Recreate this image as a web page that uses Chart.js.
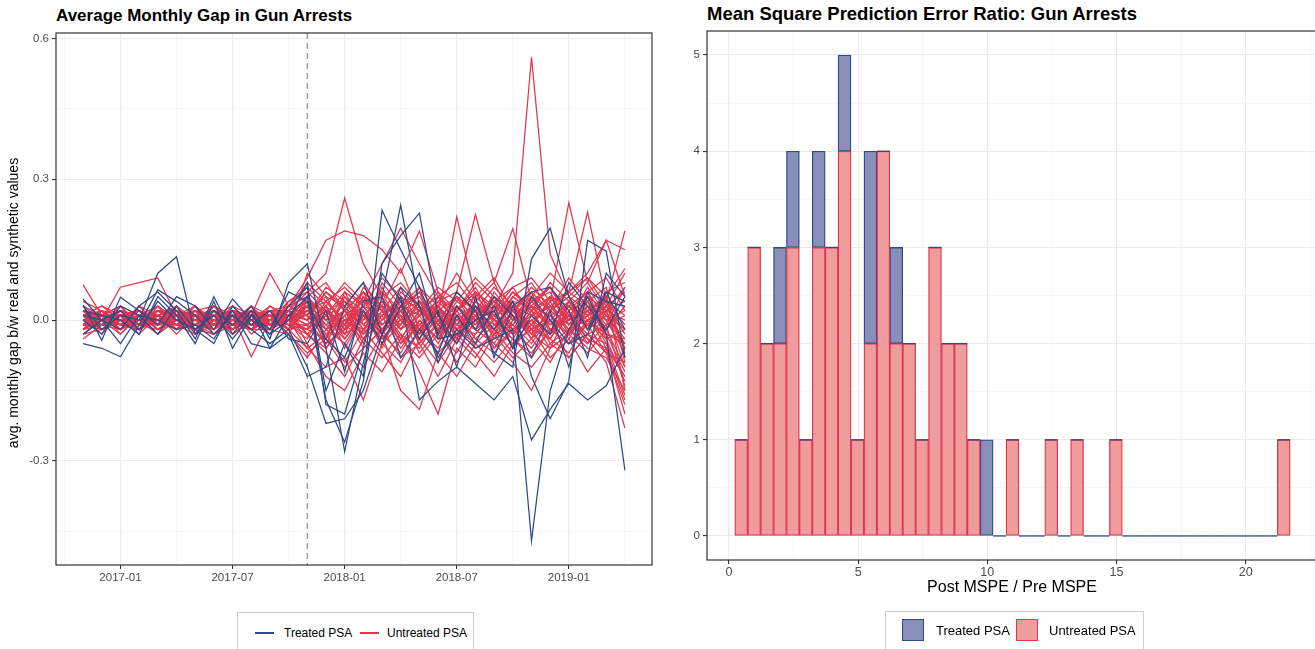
<!DOCTYPE html>
<html>
<head>
<meta charset="utf-8">
<script src="https://cdn.jsdelivr.net/npm/chart.js@4.4.1/dist/chart.umd.min.js"></script>
<style>
  html, body { margin: 0; padding: 0; background: #fff; overflow: hidden; }
  body { width: 1315px; height: 649px; position: relative; font-family: "Liberation Sans", Arial, sans-serif; color: #000; }
  canvas { position: absolute; top: 0; }
  .title { position: absolute; font-weight: bold; line-height: 20px; white-space: nowrap; }
  .axtitle { position: absolute; white-space: nowrap; text-align: center; }
  .legend { position: absolute; border: 1px solid #cfcfcf; background: #fff; }
  .legend span { position: absolute; white-space: nowrap; }
</style>
</head>
<body>
<div class="title" style="left:56px; top:6px; font-size:17px;">Average Monthly Gap in Gun Arrests</div>
<div class="title" style="left:707px; top:4px; font-size:18.5px;">Mean Square Prediction Error Ratio: Gun Arrests</div>

<canvas id="gapChart" width="660" height="600" style="left:0px;"></canvas>
<canvas id="mspeChart" width="670" height="600" style="left:660px;"></canvas>

<div class="axtitle" style="left:-187px; top:295px; width:400px; font-size:14px; line-height:16px; transform:rotate(-90deg);">avg. monthly gap b/w real and synthetic values</div>
<div class="axtitle" style="left:862px; top:578px; width:300px; font-size:16px; line-height:18px;">Post MSPE / Pre MSPE</div>

<div class="legend" style="left:237px; top:612px; width:235px; height:50px;">
  <span style="left:17px; top:19px; width:19px; height:2px; background:#2f4a8a;"></span>
  <span style="left:46px; top:12px; font-size:12px; line-height:16px;">Treated PSA</span>
  <span style="left:122px; top:19px; width:19px; height:2px; background:#e0364f;"></span>
  <span style="left:149px; top:12px; font-size:12px; line-height:16px;">Untreated PSA</span>
</div>
<div class="legend" style="left:885px; top:611px; width:257px; height:50px;">
  <span style="left:16px; top:7px; width:20px; height:20px; background:#8a8fb9; border:1.5px solid #2f4a8a;"></span>
  <span style="left:50px; top:11px; font-size:13px; line-height:16px;">Treated PSA</span>
  <span style="left:130px; top:7px; width:20px; height:20px; background:#f09c9d; border:1.5px solid #e0364f;"></span>
  <span style="left:163px; top:11px; font-size:13px; line-height:16px;">Untreated PSA</span>
</div>

<script>
// ---------- left panel data: monthly gaps (real - synthetic) ----------
const months = ['2016-11','2016-12','2017-01','2017-02','2017-03','2017-04','2017-05','2017-06','2017-07','2017-08','2017-09','2017-10',
  '2017-11','2017-12','2018-01','2018-02','2018-03','2018-04','2018-05','2018-06','2018-07','2018-08','2018-09','2018-10',
  '2018-11','2018-12','2019-01','2019-02','2019-03','2019-04'];
const treatmentMonth = '2017-11';
const monthTickLabels = ['2017-01','2017-07','2018-01','2018-07','2019-01'];
const gapTicks = [-0.3, 0, 0.3, 0.6];

const treatedPSA = [
  [.03,-.02,.01,.00,.10,.135,-.03,.02,-.01,.03,-.04,.08, .12,-.06,-.28,-.09,.05,.245,.03,-.08,-.02,-.06,-.04,-.02,-.47,-.15,-.02,.05,-.03,-.32],
  [-.05,-.06,-.078,-.01,.065,.04,.01,-.03,.01,-.02,-.05,-.02, -.10,-.22,-.21,-.15,-.03,.05,-.17,-.13,-.10,-.135,-.17,-.12,-.255,-.19,-.135,-.17,-.14,-.06],
  [.032,-.043,.049,.02,-.01,.05,.03,-.02,.045,.00,-.03,.03, .07,-.15,-.05,-.12,.234,.15,.07,-.03,.06,.02,-.07,-.10,.13,.196,.05,-.02,.06,.04],
  [.01,.00,-.02,.03,.06,.02,-.04,.05,-.03,.02,-.06,.01, .05,-.17,-.26,-.13,.12,.18,.228,.01,-.05,.03,-.02,.04,-.12,-.21,-.13,.17,.147,-.08],
  [.02,.01,.00,-.03,.05,.01,-.05,.04,-.06,.01,-.03,.00, .08,-.18,-.20,-.06,.10,.04,-.04,.02,-.10,.05,-.08,.03,.06,.07,.02,-.08,.10,.05],
  [-.03,.00,-.05,.01,.00,-.02,-.01,-.04,.02,-.05,-.06,-.03, -.12,-.10,.03,.08,-.03,.07,.03,-.09,.01,-.05,.03,-.06,.01,-.03,.08,.03,-.02,.05],
  [.045,.00,.02,-.02,.04,.00,-.02,-.05,.03,-.01,.02,-.04, -.05,.02,-.11,.04,.05,-.08,-.02,-.07,.03,-.02,.05,.01,-.08,.02,-.10,.06,.04,.03],
  [.00,-.03,.03,.01,-.03,.03,-.02,.01,-.04,.01,-.02,.06, .04,-.04,-.08,.02,-.05,.03,.10,-.04,-.03,.00,.02,-.06,.05,.00,-.05,-.03,.06,-.02]
];

const untreatedPSA = [
  [.01,-.02,.00,.02,-.01,.01,-.02,.00,.02,-.01,.01,-.02, .02,.05,.03,-.02,.04,.00,-.03,.05,.02,.06,.03,.10,.56,.14,.05,.02,.04,.01],
  [-.02,.01,.03,-.01,.00,.02,.01,-.02,.00,.03,-.01,.02, .06,.10,.26,.12,.05,.08,.03,-.02,.04,.01,-.03,.05,.02,-.04,.03,.06,.00,-.05],
  [.02,.00,-.01,.03,.01,-.02,.02,.01,-.03,.00,.02,.03, .09,.17,.19,.18,.15,.10,.19,.06,.02,.08,.04,.01,-.02,.05,.03,-.01,.04,-.06],
  [-.01,.02,.01,-.02,.03,.00,-.01,.03,.01,-.02,.00,.01, .03,-.04,.05,.02,-.06,.03,.07,.01,.22,.05,.09,.02,.06,-.03,.04,.08,.02,-.10],
  [.00,-.01,.02,.01,-.02,.01,.03,-.01,.02,.01,-.03,.00, -.02,.04,-.01,.06,.03,-.05,.01,.04,.06,.225,.08,.195,.04,.07,.01,.05,-.02,.03],
  [.03,.01,-.02,.00,.02,-.01,.00,.02,-.02,.03,.01,-.01, .04,.01,-.03,.05,.02,.07,-.02,.03,-.04,.06,.02,.07,.09,.04,.25,.08,.17,.05],
  [-.03,.00,.01,.02,-.01,.03,-.02,.01,.00,-.02,.03,.01, .01,.06,.02,-.03,.08,.03,.05,-.01,.03,.00,.05,.02,.05,.10,.06,.23,.04,.19],
  [.01,.03,.00,-.01,.02,.02,-.03,.00,.01,.02,-.02,.04, .07,.03,.08,.04,.12,.196,.12,.05,.01,.03,-.02,.04,.03,.01,-.03,.06,.09,.02],
  [.00,.02,-.03,.01,.00,-.01,.02,.03,-.01,.00,.02,-.02, .05,-.02,.04,.01,-.03,.02,.06,.00,.05,.02,.07,.03,-.01,.04,.06,.10,.17,.15],
  [-.02,-.01,.02,.00,.01,-.03,.01,-.02,.02,.01,-.01,.00, -.06,-.10,-.08,-.17,-.05,-.09,-.02,-.06,.01,-.04,-.07,-.02,-.06,.00,-.08,-.03,-.05,-.12],
  [.02,-.02,.00,.01,-.02,.00,.03,-.01,-.02,.02,.00,.01, -.03,-.07,-.12,-.04,-.08,-.03,-.11,-.20,-.06,-.10,-.03,-.08,-.04,-.09,-.02,-.06,-.08,-.15],
  [-.01,.00,.01,-.02,.02,.01,-.02,.02,.00,-.01,.01,-.03, -.08,-.02,-.05,-.10,-.03,-.15,-.19,-.07,-.12,-.05,-.09,-.04,-.08,-.02,-.05,-.01,-.07,-.18],
  [.00,.01,-.01,.02,.00,.02,-.01,-.03,.01,.00,-.02,.02, .00,-.05,.02,-.03,.01,-.06,.00,-.04,.03,-.02,-.05,.01,-.03,-.06,.02,-.04,-.09,-.23],
  [.01,-.01,.02,-.01,.01,.00,.02,.00,-.02,.01,.02,-.01, .03,.00,-.04,.02,-.02,.04,-.05,.01,-.03,.04,.00,-.04,.02,-.05,-.02,.01,-.06,-.20],
  [-.02,.02,-.01,.00,.03,-.02,.00,.01,.02,-.03,.00,.02, -.05,-.12,-.15,-.07,-.11,-.04,-.08,-.03,-.07,.00,-.05,-.09,-.15,-.06,-.03,-.07,-.02,-.10],
  [.075,.01,.03,-.02,.01,.02,-.01,.02,-.01,.01,-.02,.00, .02,-.03,.01,.04,-.01,.02,-.04,.03,-.02,.01,.04,-.03,.00,.03,-.02,.04,-.04,-.13],
  [.02,.00,.07,.08,.09,.01,-.02,.03,.00,.02,-.01,.01, .04,.02,-.02,.03,.06,-.02,.04,.02,-.04,.03,.01,-.02,.04,.00,-.03,.02,.05,-.08],
  [-.01,.01,-.02,.01,.00,.03,.00,-.02,.02,.01,.10,.03, .05,.08,.02,.06,-.01,.03,.01,-.05,.02,.06,-.01,.03,-.03,.02,.05,-.02,.03,.10],
  [.00,-.02,.01,.00,-.03,.01,.02,-.01,.01,-.078,.00,.03, .01,-.04,.06,-.01,.03,-.04,.02,.05,-.01,.02,-.06,.00,.03,-.02,.01,-.05,.02,-.06],
  [-.03,.00,-.01,.02,.00,-.02,.01,.00,-.03,.00,.01,-.01, -.04,.03,-.06,.01,-.04,.01,-.07,-.02,-.09,-.03,.02,-.06,-.01,-.04,-.07,.00,-.03,-.11],
  [.01,.02,.00,-.01,.02,-.01,.01,.02,.00,.02,-.01,.02, .08,.04,.07,.03,.09,.05,.02,.07,.04,.09,.05,.02,.07,.03,.06,.09,.05,.11],
  [.00,.00,.02,-.01,-.01,.02,.00,.01,-.01,.00,.03,.00, -.02,.01,.03,-.04,.00,.05,-.03,.02,-.01,-.03,.02,.04,-.02,.01,-.04,.03,.00,-.07],
  [.02,-.01,-.02,.01,.03,.00,-.01,-.02,.02,-.02,.01,-.02, .03,-.02,.00,.02,-.05,-.01,.03,-.02,.05,.00,-.02,.03,.01,-.03,.04,-.01,.02,.04],
  [-.01,-.02,.01,.02,-.02,.01,.00,.02,-.01,.02,.00,.04, .06,.02,-.01,.05,.00,.03,.06,-.03,.02,.05,.01,.06,.03,.07,.00,.04,.07,-.09],
  [.03,.00,-.01,-.02,.00,.01,-.02,.01,.02,.00,.01,-.02, -.06,-.03,-.09,-.02,-.07,-.12,-.04,-.09,-.03,-.07,-.12,-.05,-.02,-.08,-.04,-.11,-.06,-.17],
  [-.02,.01,.00,.01,-.01,.00,.02,-.03,.00,.01,.02,.01, .01,.07,.04,.00,.06,.02,-.02,.05,.08,.03,.00,.06,.02,.08,.04,.01,.06,.08],
  [.01,-.01,.01,.00,.01,-.02,.01,.00,.01,-.01,.00,.02, .04,-.01,.02,.06,.02,-.02,.04,.00,.03,-.01,.04,.07,.01,.05,-.01,.03,.00,.02],
  [.00,.01,-.02,.03,-.01,.01,-.01,.02,.01,.00,-.02,.01, -.01,.03,-.02,.01,-.04,.00,.02,-.01,-.05,.01,.03,-.01,.05,-.02,.00,.03,-.03,-.05],
  [-.04,-.01,.00,-.02,.01,-.01,-.03,-.01,.00,-.02,.00,-.01, -.03,-.06,-.01,-.04,.02,-.03,-.06,.00,-.02,-.05,-.01,-.04,-.07,-.02,-.05,.00,-.04,-.02],
  [.02,.01,.01,.00,-.01,.02,.00,.00,-.02,.01,.01,.00, .02,.04,.00,-.02,.03,.01,-.03,.04,.00,.03,-.02,.05,.02,-.01,.03,.00,.02,.07],
  [-.01,.00,-.03,.01,.02,.00,-.01,.01,.03,-.01,-.01,.03, .05,.01,.06,.03,.01,.05,.02,-.01,.06,.02,.04,.00,.05,.02,.06,.03,.01,-.04],
  [.01,-.03,.01,-.01,.00,.02,.01,-.01,.00,.02,.00,-.02, -.01,-.05,-.02,.02,-.03,-.07,.00,-.04,.01,-.06,-.03,-.01,-.05,.01,-.02,-.05,-.01,-.14],
  [-.02,.00,.02,.01,.01,-.01,.00,.03,-.01,-.01,.02,.00, .03,.00,.05,-.01,.04,.01,-.02,.03,-.01,.04,.01,-.03,.02,.05,.00,.02,-.02,.03],
  [.00,.02,-.01,-.02,.02,.01,.02,-.01,.01,.01,-.02,.02, .00,.03,-.03,.05,-.02,.02,.04,-.02,.01,-.01,.03,.02,-.04,.01,.03,-.02,.05,-.15],
  [.01,.01,.00,.02,-.02,.00,-.01,.01,-.01,.02,.01,-.01, -.02,-.04,.01,-.06,-.02,.02,-.05,-.01,-.04,.02,-.02,-.05,.00,-.03,.01,-.04,-.06,-.12],
  [-.02,.00,.01,.00,.00,.01,.01,-.02,.02,-.02,.00,.01, .02,-.01,-.05,.01,.05,-.02,.01,.03,-.03,.00,.05,-.02,.01,.03,-.02,.00,.03,.06],
  [.02,-.02,.00,.01,.01,-.01,-.02,.00,.01,.00,.02,-.01, -.01,.02,.04,-.02,.01,.04,-.01,.02,.05,-.02,.01,.03,-.02,-.04,.02,.06,-.03,-.04],
  [-.01,.01,-.01,.00,.02,.00,.00,.02,-.02,.01,-.01,.00, .03,-.02,.00,.03,-.02,.00,.04,-.03,.00,.03,-.04,.02,-.01,.04,-.03,.01,.04,-.01],
  [.00,-.01,.02,-.01,.00,.02,-.02,.01,.00,-.01,.01,.02, -.03,.01,-.03,.00,.03,-.04,.02,-.02,.02,-.04,.00,-.03,.03,-.01,.01,-.03,-.01,.01],
  [.01,.00,-.01,.03,-.01,-.01,.01,-.01,.02,.00,-.01,.00, .01,-.02,.02,-.01,-.03,.02,-.02,.01,-.02,.02,-.01,.01,-.03,.02,-.01,.01,.03,-.03],
  [.04,.02,-.01,.01,.00,-.01,.03,.00,-.01,.01,.02,-.02, .10,.05,-.02,.07,.03,.11,.01,.06,-.02,.04,.08,.00,.06,.02,.09,.04,-.01,.07],
  [-.03,-.02,.00,-.01,-.02,.00,-.02,-.03,-.01,-.02,-.02,-.03, -.07,-.04,-.10,-.06,-.02,-.08,-.05,-.12,-.04,-.08,-.02,-.07,-.10,-.05,-.08,-.03,-.07,-.09],
  [.01,.03,.01,-.03,.01,.02,.00,-.01,.03,.01,.00,.01, .00,.06,.03,.08,.02,-.01,.07,.03,.10,.04,.00,.05,.08,.02,.05,.09,.03,-.02],
  [.00,-.01,.03,.01,-.03,.00,.01,.02,-.02,.00,.01,-.03, .04,-.06,.00,-.03,.02,-.05,-.01,-.07,-.03,.01,-.06,-.02,.00,-.06,-.03,.02,-.05,-.16],
  [-.01,.02,-.02,.00,.01,.03,-.03,.00,.01,-.01,-.02,.01, -.01,.02,-.01,.03,-.03,.06,.03,-.02,.02,.07,.00,-.01,.04,.06,-.01,.05,.02,.00],
  [.02,.00,.00,.02,.00,-.02,.02,-.01,-.01,.03,-.01,.00, .05,.00,.02,-.05,.07,.00,-.04,.02,.00,-.02,.06,.01,-.04,.03,.00,.07,.01,-.02],
  [-.02,.01,.01,-.02,.02,.01,-.01,.01,.00,-.02,.02,.02, .00,.03,-.04,.01,-.01,.03,-.03,.00,-.05,.03,-.03,.02,-.02,.00,.04,-.02,.01,-.05]
];

// ---------- right panel data: histogram of post/pre MSPE ratio ----------
const binCenters = [0.475,0.975,1.475,1.975,2.475,2.975,3.475,3.975,4.475,4.975,5.475,5.975,6.475,6.975,7.475,7.975,8.475,8.975,9.475,9.975,
  10.475,10.975,11.475,11.975,12.475,12.975,13.475,13.975,14.475,14.975,15.475,15.975,16.475,16.975,17.475,17.975,18.475,18.975,19.475,19.975,
  20.475,20.975,21.475];
const untreatedCounts = [1,3,2,2,3,1,3,3,4,1,2,4,2,2,1,3,2,2,1,0, 0,1,0,0,1,0,1,0,0,1, 0,0,0,0,0,0,0,0,0,0,0,0, 1];
const treatedCounts   = [0,0,0,1,1,0,1,0,1,0,2,0,1,0,0,0,0,0,0,1, 0,0,0,0,0,0,0,0,0,0, 0,0,0,0,0,0,0,0,0,0,0,0, 0];
const ratioTicks = [0, 5, 10, 15, 20];
const countTicks = [0, 1, 2, 3, 4, 5];

const BLUE = '#2f4a8a';
const RED = '#e0364f';
const GRID = '#ebebeb';
const GRID_MINOR = '#f3f3f3';
const TICK_FONT = { family: 'Liberation Sans, Arial, sans-serif', size: 11.5 };

function monthIndex(s) {
  const [y, m] = s.split('-').map(Number);
  return (y - 2017) * 12 + (m - 1);
}

// ggplot style 5% expansion
function expand(lo, hi) {
  const pad = (hi - lo) * 0.05;
  return [lo - pad, hi + pad];
}

// majors + midpoints (minor grid), one extra step on each side
function withMinors(majors) {
  const step = majors[1] - majors[0];
  const out = [];
  for (let i = -1; i <= majors.length; i++) {
    const v = majors[0] + step * i;
    if (i >= 0 && i < majors.length) out.push({ value: majors[i], major: true });
    else out.push({ value: v, major: false });
    if (i < majors.length) out.push({ value: v + step / 2, major: false });
  }
  return out;
}

function isMajor(list, v) {
  return list.some((m) => Math.abs(m - v) < 1e-9);
}

function gridFor(majors) {
  return {
    color: (c) => (isMajor(majors, c.tick.value) ? GRID : GRID_MINOR),
    lineWidth: (c) => (isMajor(majors, c.tick.value) ? 1.1 : 0.7),
    tickColor: (c) => (isMajor(majors, c.tick.value) ? '#333' : 'rgba(0,0,0,0)'),
    tickLength: 4,
    drawTicks: true,
  };
}

const panelBox = {
  id: 'panelBox',
  afterDraw(chart) {
    const { ctx, chartArea: a } = chart;
    ctx.save();
    ctx.strokeStyle = '#333';
    ctx.lineWidth = 1.2;
    ctx.strokeRect(a.left, a.top, a.right - a.left, a.bottom - a.top);
    ctx.restore();
  },
};

// ---------- left chart ----------
const monthX = months.map(monthIndex);
const allGaps = treatedPSA.concat(untreatedPSA).flat();
const gapRange = expand(Math.min(...allGaps), Math.max(...allGaps));
const xRange = expand(monthX[0], monthX[monthX.length - 1]);
const monthMajors = monthTickLabels.map(monthIndex);

const treatLine = {
  id: 'treatLine',
  beforeDatasetsDraw(chart) {
    const { ctx, chartArea: a, scales } = chart;
    const x = scales.x.getPixelForValue(monthIndex(treatmentMonth));
    ctx.save();
    ctx.strokeStyle = '#808080';
    ctx.lineWidth = 1.1;
    ctx.setLineDash([6, 4]);
    ctx.beginPath();
    ctx.moveTo(x, a.top);
    ctx.lineTo(x, a.bottom);
    ctx.stroke();
    ctx.restore();
  },
};

function lineSet(values, color) {
  return {
    data: values.map((v, i) => ({ x: monthX[i], y: v })),
    borderColor: color,
    borderWidth: 1.25,
    pointRadius: 0,
    fill: false,
    tension: 0,
  };
}

const gapDatasets = treatedPSA.map((s) => lineSet(s, BLUE))
  .concat(untreatedPSA.map((s) => lineSet(s, RED)));

new Chart(document.getElementById('gapChart'), {
  type: 'line',
  data: { datasets: gapDatasets },
  options: {
    responsive: false,
    animation: false,
    events: [],
    layout: { padding: { left: 0, top: 33, right: 8, bottom: 0 } },
    plugins: { legend: { display: false }, tooltip: { enabled: false } },
    scales: {
      x: {
        type: 'linear',
        min: xRange[0],
        max: xRange[1],
        afterBuildTicks: (s) => { s.ticks = withMinors(monthMajors).filter((t) => t.value >= s.min && t.value <= s.max); },
        afterFit: (s) => { s.height = 35; },
        grid: gridFor(monthMajors),
        border: { display: false },
        ticks: {
          autoSkip: false, maxRotation: 0, padding: 2, color: '#4d4d4d', font: TICK_FONT,
          callback: (v) => { const i = monthMajors.indexOf(v); return i >= 0 ? monthTickLabels[i] : ''; },
        },
      },
      y: {
        type: 'linear',
        min: gapRange[0],
        max: gapRange[1],
        afterBuildTicks: (s) => { s.ticks = withMinors(gapTicks).filter((t) => t.value >= s.min && t.value <= s.max); },
        afterFit: (s) => { s.width = 56; },
        grid: gridFor(gapTicks),
        border: { display: false },
        ticks: {
          autoSkip: false, padding: 3, color: '#4d4d4d', font: TICK_FONT,
          callback: (v) => (isMajor(gapTicks, v) ? v.toFixed(1) : ''),
        },
      },
    },
  },
  plugins: [treatLine, panelBox],
});

// ---------- right chart ----------
const binWidth = binCenters[1] - binCenters[0];
const ratioRange = expand(binCenters[0] - binWidth / 2, binCenters[binCenters.length - 1] + binWidth / 2);
const countRange = expand(countTicks[0], countTicks[countTicks.length - 1]);

// ggplot draws empty bins as flat outlines on top of the stack
const emptyBins = {
  id: 'emptyBins',
  afterDatasetsDraw(chart) {
    const { ctx, scales } = chart;
    ctx.save();
    ctx.strokeStyle = BLUE;
    ctx.lineWidth = 1.3;
    binCenters.forEach((c, i) => {
      if (treatedCounts[i] !== 0) return;
      const x0 = scales.x.getPixelForValue(c - binWidth / 2);
      const x1 = scales.x.getPixelForValue(c + binWidth / 2);
      const y = scales.y.getPixelForValue(untreatedCounts[i]);
      ctx.beginPath();
      ctx.moveTo(x0, y);
      ctx.lineTo(x1, y);
      ctx.stroke();
    });
    ctx.restore();
  },
};

new Chart(document.getElementById('mspeChart'), {
  type: 'bar',
  data: {
    datasets: [
      {
        label: 'Untreated PSA',
        data: binCenters.map((c, i) => ({ x: c, y: untreatedCounts[i] })),
        backgroundColor: '#f09c9d',
        borderColor: RED,
        borderWidth: 1.3,
        borderSkipped: false,
        categoryPercentage: 1,
        barPercentage: 1,
      },
      {
        label: 'Treated PSA',
        data: binCenters.map((c, i) => ({ x: c, y: treatedCounts[i] })),
        backgroundColor: '#8a8fb9',
        borderColor: BLUE,
        borderWidth: 1.3,
        borderSkipped: false,
        categoryPercentage: 1,
        barPercentage: 1,
      },
    ],
  },
  options: {
    responsive: false,
    animation: false,
    events: [],
    layout: { padding: { left: 0, top: 31, right: 12, bottom: 0 } },
    plugins: { legend: { display: false }, tooltip: { enabled: false } },
    scales: {
      x: {
        type: 'linear',
        stacked: true,
        offset: false,
        min: ratioRange[0],
        max: ratioRange[1],
        afterBuildTicks: (s) => { s.ticks = withMinors(ratioTicks).filter((t) => t.value >= s.min && t.value <= s.max); },
        afterFit: (s) => { s.height = 40; },
        grid: Object.assign(gridFor(ratioTicks), { offset: false }),
        border: { display: false },
        ticks: {
          autoSkip: false, maxRotation: 0, padding: 1, color: '#4d4d4d', font: { family: TICK_FONT.family, size: 12.5 },
          callback: (v) => (isMajor(ratioTicks, v) ? String(v) : ''),
        },
      },
      y: {
        type: 'linear',
        stacked: true,
        min: countRange[0],
        max: countRange[1],
        afterBuildTicks: (s) => { s.ticks = withMinors(countTicks).filter((t) => t.value >= s.min && t.value <= s.max); },
        afterFit: (s) => { s.width = 47; },
        grid: gridFor(countTicks),
        border: { display: false },
        ticks: {
          autoSkip: false, padding: 3, color: '#4d4d4d', font: TICK_FONT,
          callback: (v) => (isMajor(countTicks, v) ? String(v) : ''),
        },
      },
    },
  },
  plugins: [emptyBins, panelBox],
});
</script>
</body>
</html>
